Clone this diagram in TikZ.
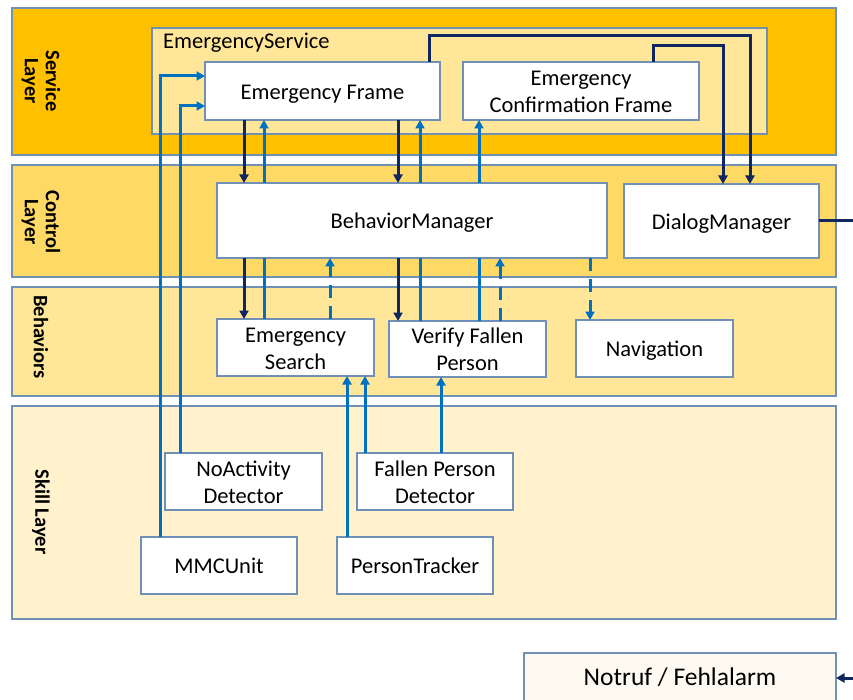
\documentclass[tikz,border=0pt]{standalone}
\usepackage{fontspec}
\setmainfont{Carlito}
\usetikzlibrary{arrows.meta}

\definecolor{serviceband}{HTML}{FFC000}
\definecolor{controlband}{HTML}{FFD966}
\definecolor{behaviorband}{HTML}{FFE699}
\definecolor{skillband}{HTML}{FFF2CC}
\definecolor{edgegray}{RGB}{112,144,182}
\definecolor{flowblue}{HTML}{0070C0}
\definecolor{flownavy}{HTML}{0F2660}
\definecolor{alarmfill}{RGB}{255,250,241}

% box text: one or more centred lines, baseline block set a fixed amount below the box centre
\newcommand\celltext[1]{\raisebox{-8pt}[0pt][0pt]{\begin{tabular}{@{}c@{}}#1\end{tabular}}}

\tikzset{
  band/.style={draw=edgegray, line width=1.1pt, inner sep=0pt, outer sep=0pt},
  layerlabel/.style={rotate=-90, align=center, text=black,
    font=\bfseries\fontsize{20.5}{21}\selectfont},
  comp/.style={draw=edgegray, fill=white, line width=1.2pt, inner sep=2pt,
    outer sep=0pt, text=black,
    font=\fontsize{22.5}{27}\selectfont},
  tipstyle/.style={-{Triangle[length=8.5pt,width=9pt]}},
  req/.style={draw=flownavy, line width=3pt},
  resp/.style={draw=flowblue, line width=3pt},
  optional/.style={draw=flowblue, line width=3pt, dash pattern=on 13pt off 8pt},
}

\begin{document}
\begin{tikzpicture}[x=1pt, y=-1pt]
\useasboundingbox (0,0) rectangle (853,700);
\clip (0,0) rectangle (853,700);

% layer bands
\node[band, fill=serviceband,  minimum width=824, minimum height=147] (service)  at (424,81.5)  {};
\node[band, fill=controlband,  minimum width=824, minimum height=112] (control)  at (424,221)   {};
\node[band, fill=behaviorband, minimum width=824, minimum height=109] (behavior) at (424,341.5) {};
\node[band, fill=skillband,    minimum width=824, minimum height=213] (skill)    at (424,512.5) {};

\node[layerlabel] (servicelbl)  at (41,81)  {Service\\Layer};
\node[layerlabel] (controllbl)  at (41,222) {Control\\Layer};
\node[layerlabel] (behaviorlbl) at (41,337) {Behaviors};
\node[layerlabel] (skilllbl)    at (41,512) {Skill Layer};

% service container
\node[band, fill=behaviorband, minimum width=615, minimum height=106] (esvc) at (459.5,81) {};
\node[anchor=base west, inner sep=0pt, text=black, font=\fontsize{22.5}{27}\selectfont]
  (esvclbl) at (163,49) {EmergencyService};

% components
\node[comp, minimum width=235, minimum height=58] (EF)  at (322.5,91) {\celltext{Emergency Frame}};
\node[comp, minimum width=236, minimum height=58] (ECF) at (581,91)   {\celltext{Emergency\\Confirmation Frame}};
\node[comp, minimum width=390, minimum height=75] (BM)  at (412,220.5) {\celltext{BehaviorManager}};
\node[comp, minimum width=195, minimum height=74] (DM)  at (721.5,221) {\celltext{DialogManager}};
\node[comp, minimum width=157, minimum height=57] (ES)  at (295.5,347.5) {\celltext{Emergency\\Search}};
\node[comp, minimum width=157, minimum height=56] (VFP) at (467.5,349) {\celltext{Verify Fallen\\Person}};
\node[comp, minimum width=157, minimum height=57] (NAV) at (654.5,348.5) {\celltext{Navigation}};
\node[comp, minimum width=157, minimum height=57] (NAD) at (243.5,481.5) {\celltext{NoActivity\\Detector}};
\node[comp, minimum width=156, minimum height=57] (FPD) at (435,481.5) {\celltext{Fallen Person\\Detector}};
\node[comp, minimum width=156, minimum height=57] (MMC) at (219,565.5) {\celltext{MMCUnit}};
\node[comp, minimum width=156, minimum height=57] (PT)  at (415,565.5) {\celltext{PersonTracker}};
\node[comp, fill=alarmfill, minimum width=312, minimum height=50,
  font=\fontsize{25.5}{30}\selectfont] (ALARM) at (680,678) {\celltext{Notruf / Fehlalarm}};

% skills reporting to the emergency frame
\draw[resp, tipstyle] (MMC.north -| 160,0) |- (EF.west |- 0,76);
\draw[resp, tipstyle] (NAD.north -| 180,0) |- (EF.west |- 0,106);

% service <-> control
\draw[req, tipstyle]  (EF.south -| 244,0) -- (BM.north -| 244,0);
\draw[resp, tipstyle] (BM.north -| 264,0) -- (EF.south -| 264,0);
\draw[req, tipstyle]  (EF.south -| 398,0) -- (BM.north -| 398,0);
\draw[resp, tipstyle] (BM.north -| 420,0) -- (EF.south -| 420,0);
\draw[resp, tipstyle] (BM.north -| 479,0) -- (ECF.south -| 479,0);
\draw[req, tipstyle]  (EF.north -| 429,0) -- ++(0,-26) -| (DM.north -| 750,0);
\draw[req, tipstyle]  (ECF.north -| 653,0) -- ++(0,-16) -| (DM.north -| 723,0);
\draw[req, tipstyle]  (DM.east) -- ++(45,0) |- (ALARM.east);

% control <-> behaviors
\draw[req, tipstyle]  (BM.south -| 244,0) -- (ES.north -| 244,0);
\draw[resp]           (ES.north -| 264,0) -- (BM.south -| 264,0);
\draw[optional, tipstyle] (ES.north -| 330,0) -- (BM.south -| 330,0);
\draw[req, tipstyle]  (BM.south -| 398,0) -- (VFP.north -| 398,0);
\draw[resp]           (VFP.north -| 420,0) -- (BM.south -| 420,0);
\draw[resp]           (VFP.north -| 479,0) -- (BM.south -| 479,0);
\draw[optional, tipstyle] (VFP.north -| 500,0) -- (BM.south -| 500,0);
\draw[optional, tipstyle] (BM.south -| 590,0) -- (NAV.north -| 590,0);

% skills -> behaviors
\draw[resp, tipstyle] (PT.north -| 347,0)  -- (ES.south -| 347,0);
\draw[resp, tipstyle] (FPD.north -| 365,0) -- (ES.south -| 365,0);
\draw[resp, tipstyle] (FPD.north -| 441,0) -- (VFP.south -| 441,0);
\end{tikzpicture}
\end{document}
